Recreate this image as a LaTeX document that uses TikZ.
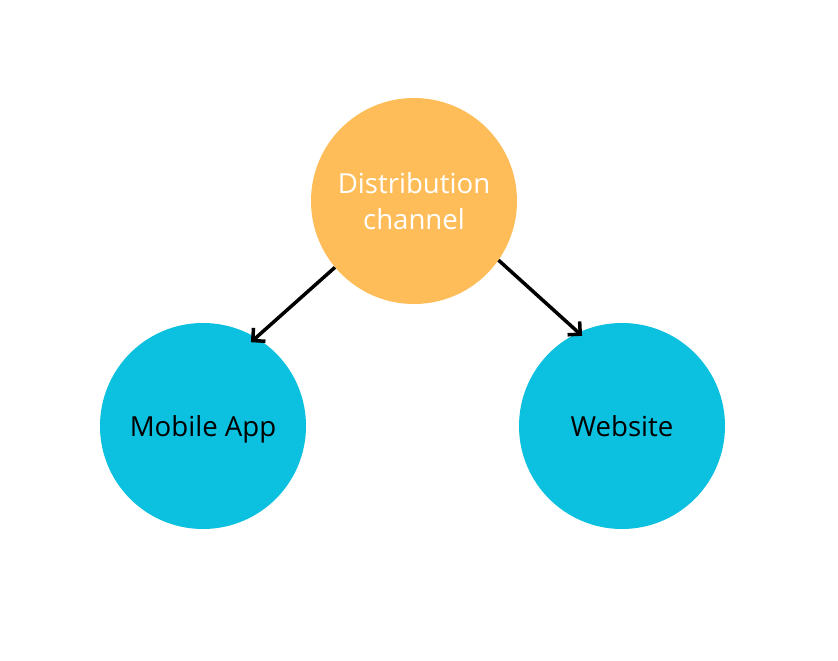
\documentclass[tikz,border=0pt]{standalone}
\usepackage{fontspec}
\setmainfont{Open Sans}
\usetikzlibrary{arrows.meta}
\definecolor{orangec}{HTML}{FFBD59}
\definecolor{cyanc}{HTML}{0CC0DF}
\begin{document}
\begin{tikzpicture}[x=1pt,y=-1pt,
  bub/.style={circle,minimum size=206pt,inner sep=0pt,align=center,font=\fontsize{27.6}{36}\selectfont},
  conn/.style={line width=3.5pt,-{Straight Barb[length=9pt,width=18pt,line width=3.5pt]}}]
\fill[white] (0,0) rectangle (838,661);
\useasboundingbox (0,0) rectangle (838,661);
\node[bub,fill=orangec,text=white] (dist) at (414,201) {Distribution\\channel};
\node[bub,fill=cyanc,text=black,text depth=0pt] (app) at (203,426) {Mobile App};
\node[bub,fill=cyanc,text=black,text depth=0pt] (web) at (622,426) {Website};
\draw[conn,shorten >=-7pt] (dist.220) -- (app.59);
\draw[conn,shorten >=-5pt] (dist.-35) -- (web.115);
\end{tikzpicture}
\end{document}
